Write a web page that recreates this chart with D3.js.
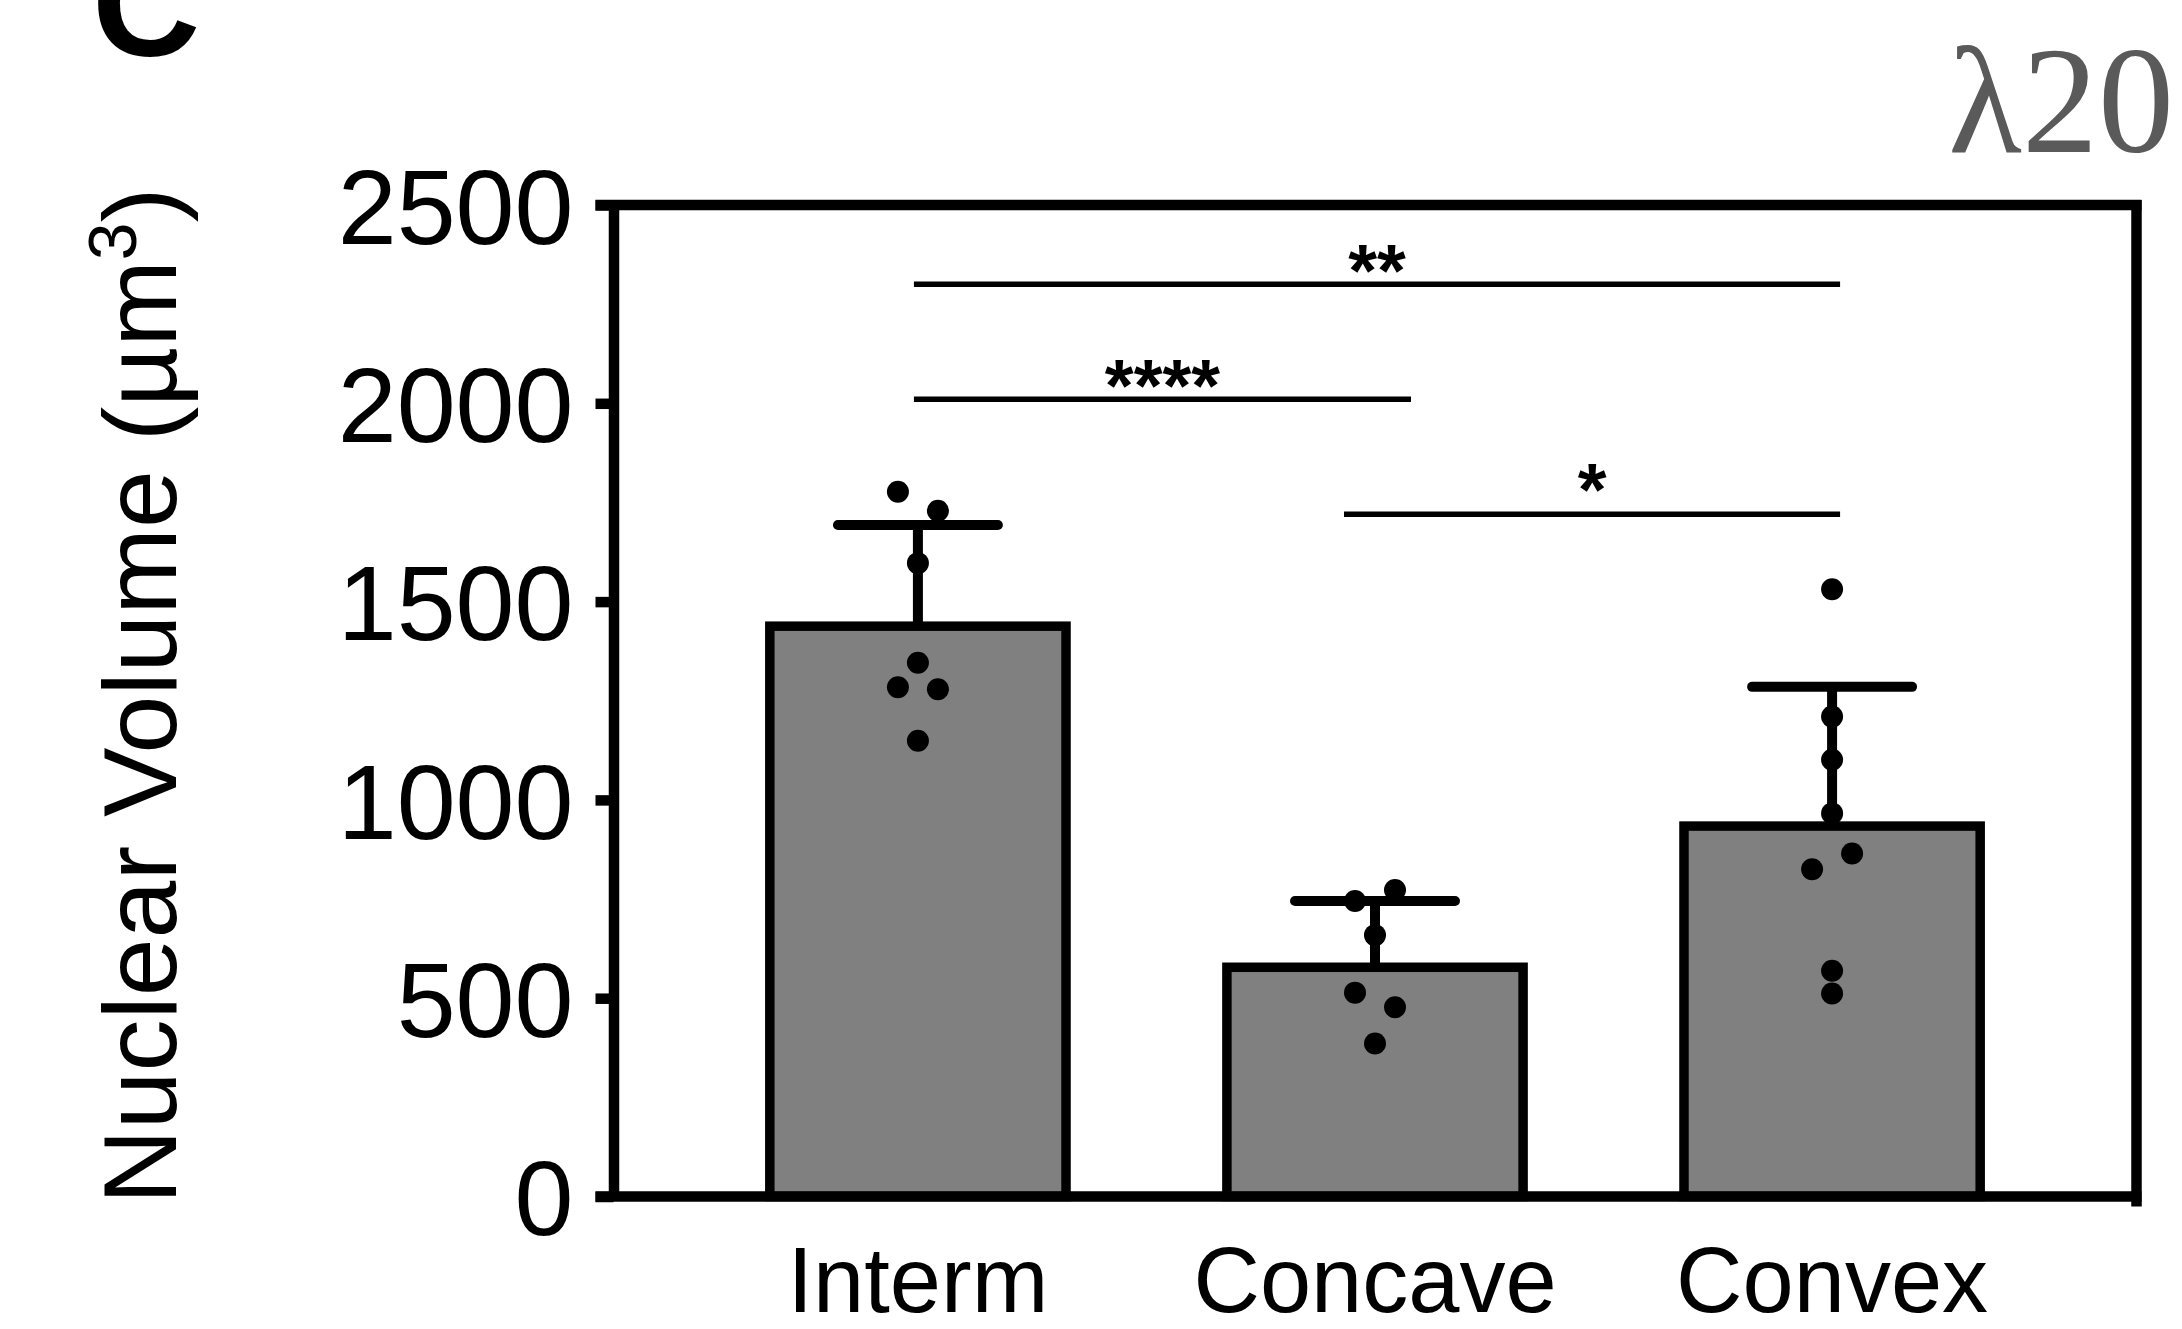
<!DOCTYPE html>
<html>
<head>
<meta charset="utf-8">
<script src="https://cdn.jsdelivr.net/npm/d3@7"></script>
<style>
  html, body { margin: 0; padding: 0; background: #fff; }
  svg { display: block; font-family: "Liberation Sans", Arial, sans-serif; }
</style>
</head>
<body>
<div id="chart"></div>
<script>
// values
const categories = ["Interm", "Concave", "Convex"];
const means = [1438, 578, 934];
const sdTop = [1693, 745, 1285];
const replicates = [
    [1777, 1729, 1597, 1346, 1284, 1279, 1149],
    [745, 773, 659, 514, 477, 386],
    [1531, 1210, 1101, 966, 825, 865, 569, 512]
];
const yTicks = [0, 500, 1000, 1500, 2000, 2500];
const brackets = [
    {from: "Interm", to: "Convex", y: 2300, label: "**"},
    {from: "Interm", to: "Concave", y: 2010, label: "****"},
    {from: "Concave", to: "Convex", y: 1720, label: "*"}
];
const yTitle = "Nuclear Volume (µm";
const cornerTag = "λ20";

const W = 2182, H = 1329;
const margin = {top: 205, right: 45.5, bottom: 132.5, left: 613.5};

const svg = d3.select("#chart").append("svg")
    .attr("width", W)
    .attr("height", H)
    .attr("viewBox", `0 0 ${W} ${H}`);

svg.append("rect").attr("width", W).attr("height", H).attr("fill", "#fff");

const x = d3.scaleBand()
    .domain(categories)
    .range([margin.left, W - margin.right])
    .paddingInner(0.352)
    .paddingOuter(0.342);

const y = d3.scaleLinear()
    .domain([0, 2500])
    .range([H - margin.bottom, margin.top]);

const cx = c => x(c) + x.bandwidth() / 2;

// bars
svg.append("g").selectAll("rect")
    .data(categories)
    .join("rect")
    .attr("x", d => x(d))
    .attr("width", x.bandwidth())
    .attr("y", (d, i) => y(means[i]))
    .attr("height", (d, i) => y(0) - y(means[i]))
    .attr("fill", "#808080")
    .attr("stroke", "#000")
    .attr("stroke-width", 9.5);

// error bars (upper only)
const eb = svg.append("g").attr("stroke", "#000").attr("stroke-width", 10);
eb.selectAll("line.stem")
    .data(categories)
    .join("line")
    .attr("class", "stem")
    .attr("x1", d => cx(d)).attr("x2", d => cx(d))
    .attr("y1", (d, i) => y(means[i]))
    .attr("y2", (d, i) => y(sdTop[i]));
eb.selectAll("line.cap")
    .data(categories)
    .join("line")
    .attr("class", "cap")
    .attr("stroke-linecap", "round")
    .attr("x1", d => cx(d) - x.bandwidth() * 0.27)
    .attr("x2", d => cx(d) + x.bandwidth() * 0.27)
    .attr("y1", (d, i) => y(sdTop[i]))
    .attr("y2", (d, i) => y(sdTop[i]));

// replicate dots, neighbours that would overlap get pushed left / right
const dots = [];
categories.forEach((c, i) => {
    const vals = replicates[i];
    let k = 0;
    while (k < vals.length) {
        const next = vals[k + 1];
        if (next !== undefined && Math.abs(y(vals[k]) - y(next)) < 20) {
            dots.push({c, v: vals[k], dx: -20});
            dots.push({c, v: next, dx: 20});
            k += 2;
        } else {
            dots.push({c, v: vals[k], dx: 0});
            k += 1;
        }
    }
});
svg.append("g").selectAll("circle")
    .data(dots)
    .join("circle")
    .attr("cx", d => cx(d.c) + d.dx)
    .attr("cy", d => y(d.v))
    .attr("r", 11)
    .attr("fill", "#000");

// axes
const yAxis = svg.append("g")
    .attr("transform", `translate(${margin.left},0)`)
    .call(d3.axisLeft(y).tickValues(yTicks).tickFormat(d3.format("d"))
        .tickSize(18).tickPadding(22).tickSizeOuter(0));
yAxis.select(".domain").attr("stroke-width", 10.5);
yAxis.selectAll(".tick line").attr("stroke-width", 10.5);
yAxis.selectAll(".tick text")
    .attr("font-size", 106)
    .attr("font-family", "Liberation Sans, Arial, sans-serif")
    .attr("fill", "#000")
    .attr("dy", "0.36em");

const xAxis = svg.append("g")
    .attr("transform", `translate(0,${y(0)})`)
    .call(d3.axisBottom(x).tickSize(0).tickPadding(0).tickSizeOuter(0));
xAxis.select(".domain").remove();
xAxis.selectAll(".tick text")
    .attr("font-size", 92)
    .attr("font-family", "Liberation Sans, Arial, sans-serif")
    .attr("fill", "#000")
    .attr("dy", 0)
    .attr("y", 115);

// frame: bottom, top, right
const frame = svg.append("g").attr("stroke", "#000").attr("stroke-width", 10.5).attr("fill", "none");
const x0 = margin.left - 18, x1 = W - margin.right;
frame.append("line").attr("x1", x0).attr("x2", x1 + 5).attr("y1", y(0)).attr("y2", y(0));
frame.append("line").attr("x1", x0).attr("x2", x1 + 5).attr("y1", y(2500)).attr("y2", y(2500));
frame.append("line").attr("x1", x1).attr("x2", x1).attr("y1", y(2500) - 5).attr("y2", y(0) + 10);

// significance brackets
const endNudge = {Interm: [-4, 0], Concave: [-31, 36], Convex: [0, 8]};
const sig = svg.append("g");
brackets.forEach(b => {
    const xa = cx(b.from) + endNudge[b.from][0];
    const xb = cx(b.to) + endNudge[b.to][1];
    sig.append("line")
        .attr("x1", xa).attr("x2", xb)
        .attr("y1", y(b.y)).attr("y2", y(b.y))
        .attr("stroke", "#000")
        .attr("stroke-width", 5.5);
    sig.append("text")
        .attr("x", (xa + xb) / 2)
        .attr("y", y(b.y) - (b.label.length === 1 ? 41 : 30) + 42)
        .attr("text-anchor", "middle")
        .attr("font-size", 74)
        .attr("font-weight", "bold")
        .attr("fill", "#000")
        .text(b.label);
});

// y title with superscript
const title = svg.append("text")
    .attr("transform", `translate(176,696) rotate(-90)`)
    .attr("text-anchor", "middle")
    .attr("font-size", 104)
    .attr("fill", "#000");
title.append("tspan").text(yTitle);
title.append("tspan").attr("font-size", 68).attr("dy", -40).text("3");
title.append("tspan").attr("dy", 40).text(")");

// corner tag and the panel letter that the figure crops at the top
svg.append("text")
    .attr("x", 2174).attr("y", 152)
    .attr("text-anchor", "end")
    .attr("font-family", "Liberation Serif, Times New Roman, serif")
    .attr("font-size", 152)
    .attr("fill", "#5a5a5a")
    .text(cornerTag);

svg.append("text")
    .attr("x", 92).attr("y", 56)
    .attr("font-size", 150)
    .attr("font-weight", "bold")
    .attr("fill", "#000")
    .text("C");
</script>
</body>
</html>
